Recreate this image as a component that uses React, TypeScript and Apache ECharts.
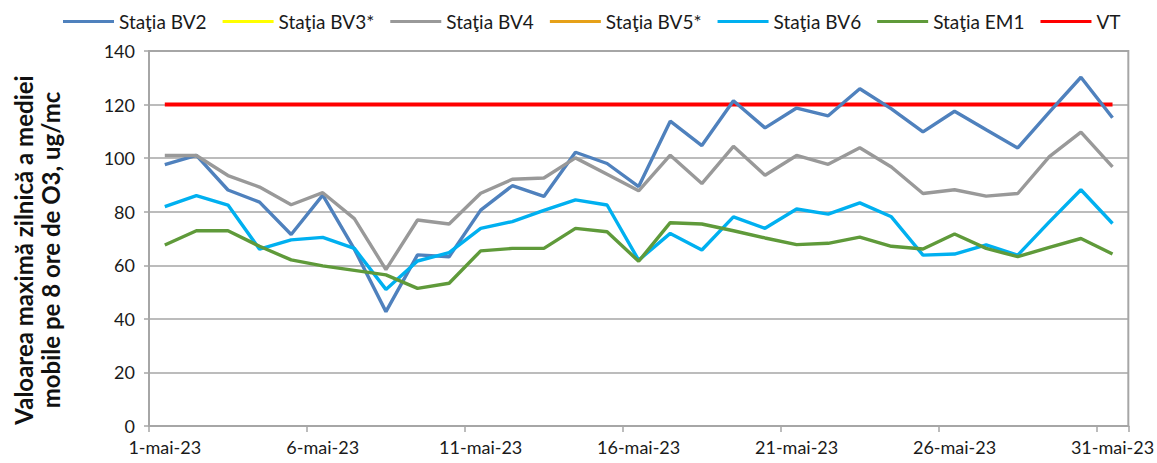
import React, { useEffect, useRef } from "react";
import * as echarts from "echarts";

const categories = [
  "1-mai-23", "2-mai-23", "3-mai-23", "4-mai-23", "5-mai-23", "6-mai-23", "7-mai-23", "8-mai-23",
  "9-mai-23", "10-mai-23", "11-mai-23", "12-mai-23", "13-mai-23", "14-mai-23", "15-mai-23", "16-mai-23",
  "17-mai-23", "18-mai-23", "19-mai-23", "20-mai-23", "21-mai-23", "22-mai-23", "23-mai-23", "24-mai-23",
  "25-mai-23", "26-mai-23", "27-mai-23", "28-mai-23", "29-mai-23", "30-mai-23", "31-mai-23",
];

const bv2 = [97.6, 101, 88.1, 83.6, 71.5, 86.2, 66, 42.7, 63.9, 63.2, 80.6, 89.7, 85.7, 102.2, 98, 89.4,
  113.8, 104.7, 121.4, 111.3, 118.7, 115.8, 125.9, 118.4, 109.8, 117.5, 110.6, 103.8, 117.2, 130.2, 115.1];
const bv3: (number | null)[] = [];
const bv4 = [101, 101, 93.5, 89.2, 82.6, 87.1, 77.4, 58.4, 76.9, 75.4, 86.9, 92.1, 92.6, 100.1, 94, 87.8,
  101.1, 90.5, 104.4, 93.6, 101, 97.7, 103.9, 96.7, 86.8, 88.2, 85.8, 86.8, 100.6, 109.7, 96.7];
const bv5: (number | null)[] = [];
const bv6 = [81.9, 86, 82.5, 66, 69.5, 70.4, 66.3, 51, 61.6, 64.7, 73.8, 76.3, 80.5, 84.4, 82.5, 61.9,
  71.9, 65.7, 78.1, 73.8, 81, 79.1, 83.3, 78.1, 63.8, 64.2, 67.6, 63.8, 76.2, 88.2, 75.6];
const em1 = [67.6, 72.9, 72.9, 67.1, 62, 59.8, 58.1, 56.4, 51.4, 53.3, 65.4, 66.3, 66.3, 73.8, 72.5, 61.5,
  75.9, 75.4, 72.9, 70.2, 67.7, 68.2, 70.5, 67.1, 66.1, 71.7, 66.3, 63.2, 66.7, 70, 64.2];
const vt = [120, 120, 120, 120, 120, 120, 120, 120, 120, 120, 120, 120, 120, 120, 120, 120,
  120, 120, 120, 120, 120, 120, 120, 120, 120, 120, 120, 120, 120, 120, 120];

const seriesNames = ["Staţia BV2", "Staţia BV3*", "Staţia BV4", "Staţia BV5*", "Staţia BV6", "Staţia EM1", "VT"];
const seriesData = [bv2, bv3, bv4, bv5, bv6, em1, vt];
const seriesColors = ["#4f81bd", "#ffff00", "#999999", "#e6a118", "#00b0f0", "#5f9a3a", "#ff0000"];
const seriesWidths = [3.4, 3.4, 3.4, 3.4, 3.4, 3.4, 4];

const yTitle = "Valoarea maximă zilnică a mediei\nmobile pe 8 ore de O3, ug/mc";

const FONT = "Lato, 'Noto Sans', sans-serif";

export default function App() {
  const ref = useRef<HTMLDivElement>(null);
  useEffect(() => {
    document.body.style.margin = "0";
    const chart = echarts.init(ref.current!, null, { renderer: "svg" });
    chart.setOption({
      animation: false,
      backgroundColor: "#ffffff",
      legend: {
        top: 7,
        left: 58,
        itemWidth: 51,
        itemHeight: 3,
        itemGap: 16,
        icon: "rect",
        textStyle: { fontFamily: FONT, fontSize: 19, color: "#1a1a1a" },
        data: seriesNames,
      },
      grid: {
        left: 149,
        right: 21,
        top: 51,
        bottom: 37,
        show: true,
        borderColor: "#a6a6a6",
        borderWidth: 2,
      },
      xAxis: {
        type: "category",
        data: categories,
        boundaryGap: true,
        axisLine: { lineStyle: { color: "#a6a6a6", width: 2 } },
        axisTick: { show: true, interval: 4, length: 6, lineStyle: { color: "#a6a6a6", width: 1.5 } },
        axisLabel: {
          interval: 4,
          margin: 12,
          fontFamily: FONT,
          fontSize: 18,
          color: "#1a1a1a",
        },
      },
      yAxis: {
        type: "value",
        min: 0,
        max: 140,
        interval: 20,
        axisLine: { show: true, lineStyle: { color: "#a6a6a6", width: 2 } },
        axisTick: { show: true, length: 5, lineStyle: { color: "#a6a6a6", width: 1.5 } },
        splitLine: { lineStyle: { color: "#a6a6a6", width: 1.5 } },
        axisLabel: { margin: 14, fontFamily: FONT, fontSize: 18, color: "#1a1a1a" },
      },
      graphic: [
        {
          type: "text",
          x: 37,
          y: 250,
          rotation: Math.PI / 2,
          style: {
            text: yTitle,
            fontFamily: FONT,
            fontSize: 24,
            fontWeight: "bold",
            lineHeight: 27,
            align: "center",
            verticalAlign: "middle",
            fill: "#111",
          },
        },
      ],
      series: seriesNames.map((name, i) => ({
        name,
        type: "line",
        data: seriesData[i],
        symbol: "none",
        showSymbol: false,
        color: seriesColors[i],
        lineStyle: { color: seriesColors[i], width: seriesWidths[i] },
        z: i === 6 ? 1 : 2,
      })),
    });
    return () => chart.dispose();
  }, []);
  return <div ref={ref} style={{ width: 1157, height: 463 }} />;
}
